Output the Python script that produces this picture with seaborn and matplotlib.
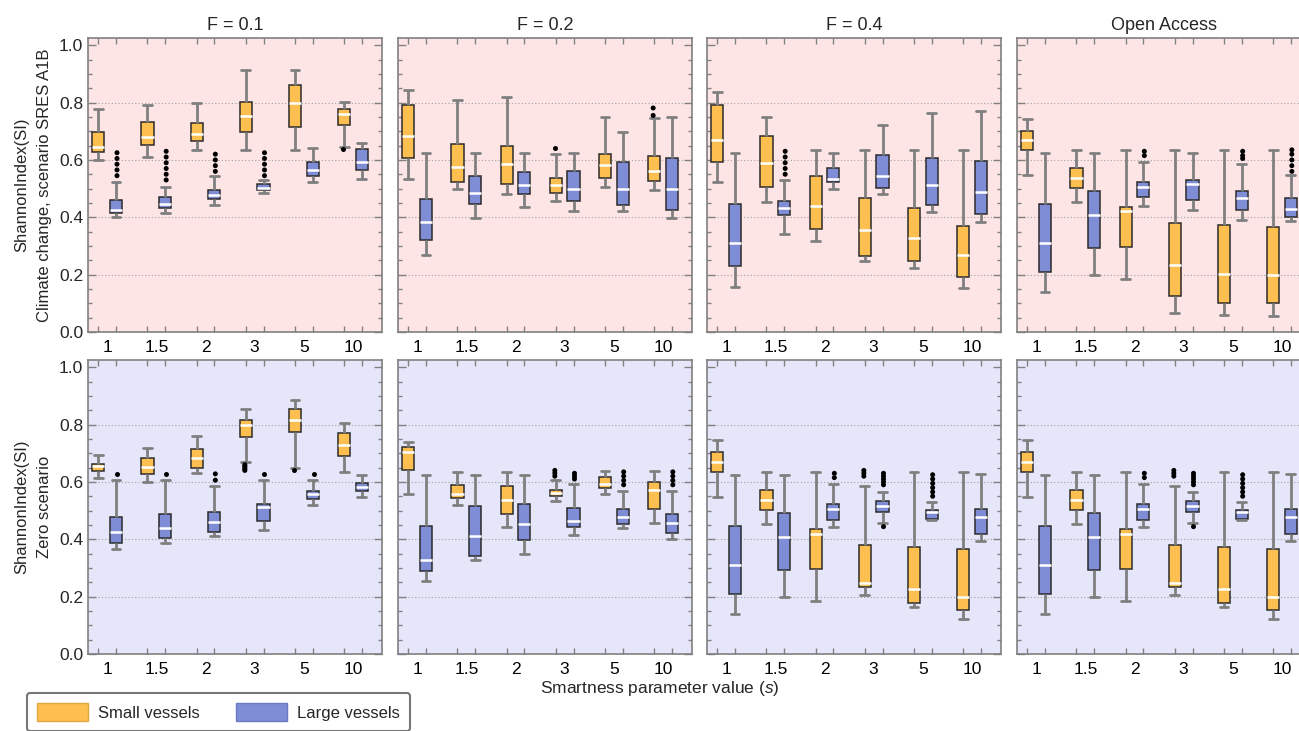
import pandas as pd
import matplotlib
matplotlib.use("Agg")
import matplotlib.pyplot as plt
from matplotlib.patches import Patch
import seaborn as sns

# categories
s_labels = ["1", "1.5", "2", "3", "5", "10"]
vessels = ["Small", "Large"]

# box stats per panel: (lower whisker, q1, median, q3, upper whisker)
f01_cc_small = [(0.600, 0.626, 0.645, 0.698, 0.776), (0.610, 0.653, 0.680, 0.731, 0.793),
                (0.634, 0.665, 0.690, 0.729, 0.797), (0.634, 0.698, 0.752, 0.802, 0.913),
                (0.634, 0.715, 0.797, 0.860, 0.913), (0.645, 0.723, 0.759, 0.779, 0.802)]
f01_cc_large = [(0.400, 0.415, 0.427, 0.459, 0.523), (0.416, 0.433, 0.445, 0.471, 0.506),
                (0.442, 0.463, 0.477, 0.494, 0.543), (0.483, 0.494, 0.503, 0.517, 0.529),
                (0.523, 0.543, 0.564, 0.593, 0.640), (0.535, 0.564, 0.591, 0.637, 0.659)]
f01_cc_out = {("1", "Large"): [0.545, 0.565, 0.585, 0.605, 0.625],
              ("1.5", "Large"): [0.53, 0.55, 0.57, 0.59, 0.61, 0.63],
              ("2", "Large"): [0.56, 0.58, 0.60, 0.62],
              ("3", "Large"): [0.545, 0.565, 0.585, 0.605, 0.625],
              ("10", "Small"): [0.638]}

f02_cc_small = [(0.534, 0.606, 0.685, 0.790, 0.842), (0.500, 0.524, 0.576, 0.655, 0.808),
                (0.481, 0.517, 0.584, 0.648, 0.819), (0.456, 0.484, 0.513, 0.538, 0.621),
                (0.505, 0.536, 0.581, 0.621, 0.751), (0.495, 0.528, 0.562, 0.614, 0.745)]
f02_cc_large = [(0.267, 0.320, 0.383, 0.462, 0.623), (0.399, 0.445, 0.484, 0.543, 0.623),
                (0.437, 0.480, 0.514, 0.558, 0.623), (0.422, 0.457, 0.500, 0.562, 0.623),
                (0.422, 0.442, 0.500, 0.591, 0.699), (0.399, 0.424, 0.500, 0.606, 0.751)]
f02_cc_out = {("3", "Small"): [0.640], ("10", "Small"): [0.755, 0.781]}

f04_cc_small = [(0.523, 0.592, 0.669, 0.790, 0.836), (0.452, 0.505, 0.590, 0.685, 0.751),
                (0.317, 0.359, 0.441, 0.543, 0.635), (0.247, 0.266, 0.356, 0.467, 0.635),
                (0.223, 0.247, 0.326, 0.434, 0.635), (0.152, 0.192, 0.269, 0.370, 0.635)]
f04_cc_large = [(0.157, 0.229, 0.310, 0.445, 0.623), (0.340, 0.408, 0.431, 0.457, 0.530),
                (0.500, 0.523, 0.535, 0.572, 0.623), (0.481, 0.501, 0.545, 0.617, 0.720),
                (0.419, 0.443, 0.514, 0.606, 0.765), (0.384, 0.413, 0.488, 0.595, 0.769)]
f04_cc_out = {("1.5", "Large"): [0.55, 0.57, 0.59, 0.61, 0.63]}

oa_cc_small = [(0.547, 0.634, 0.671, 0.701, 0.742), (0.452, 0.502, 0.537, 0.573, 0.635),
               (0.186, 0.298, 0.421, 0.435, 0.635), (0.066, 0.126, 0.235, 0.379, 0.635),
               (0.059, 0.102, 0.201, 0.373, 0.635), (0.057, 0.102, 0.198, 0.366, 0.635)]
oa_cc_large = [(0.141, 0.210, 0.310, 0.445, 0.623), (0.200, 0.293, 0.407, 0.491, 0.623),
               (0.441, 0.469, 0.505, 0.523, 0.594), (0.426, 0.460, 0.516, 0.531, 0.623),
               (0.392, 0.424, 0.467, 0.491, 0.586), (0.387, 0.401, 0.429, 0.467, 0.549)]
oa_cc_out = {("2", "Large"): [0.615, 0.63], ("5", "Large"): [0.605, 0.615, 0.63],
             ("10", "Large"): [0.56, 0.58, 0.60, 0.62, 0.635]}

f01_zero_small = [(0.613, 0.639, 0.654, 0.661, 0.693), (0.598, 0.628, 0.652, 0.682, 0.719),
                  (0.631, 0.648, 0.683, 0.713, 0.759), (0.668, 0.756, 0.797, 0.817, 0.855),
                  (0.650, 0.773, 0.817, 0.853, 0.886), (0.636, 0.689, 0.730, 0.770, 0.807)]
f01_zero_large = [(0.366, 0.386, 0.424, 0.476, 0.606), (0.388, 0.404, 0.441, 0.487, 0.606),
                  (0.411, 0.427, 0.459, 0.494, 0.584), (0.432, 0.464, 0.512, 0.524, 0.606),
                  (0.520, 0.540, 0.557, 0.570, 0.606), (0.549, 0.569, 0.582, 0.596, 0.625)]
f01_zero_out = {("1", "Large"): [0.628], ("1.5", "Large"): [0.628], ("2", "Large"): [0.606, 0.628],
                ("3", "Small"): [0.64, 0.645, 0.65, 0.655, 0.66], ("3", "Large"): [0.628],
                ("5", "Small"): [0.640], ("5", "Large"): [0.628]}

f02_zero_small = [(0.557, 0.641, 0.703, 0.720, 0.740), (0.520, 0.543, 0.558, 0.589, 0.635),
                  (0.444, 0.488, 0.537, 0.585, 0.635), (0.534, 0.551, 0.563, 0.573, 0.605),
                  (0.557, 0.577, 0.591, 0.617, 0.639), (0.457, 0.505, 0.571, 0.599, 0.639)]
f02_zero_large = [(0.253, 0.290, 0.329, 0.445, 0.624), (0.327, 0.340, 0.410, 0.517, 0.624),
                  (0.350, 0.396, 0.453, 0.523, 0.624), (0.415, 0.443, 0.464, 0.509, 0.594),
                  (0.441, 0.453, 0.477, 0.506, 0.568), (0.400, 0.423, 0.456, 0.487, 0.568)]
f02_zero_out = {("3", "Small"): [0.62, 0.63, 0.64], ("3", "Large"): [0.61, 0.62, 0.63],
                ("5", "Large"): [0.59, 0.605, 0.62, 0.635], ("10", "Large"): [0.59, 0.605, 0.62, 0.635]}

f04_zero_small = [(0.549, 0.636, 0.670, 0.704, 0.745), (0.452, 0.502, 0.537, 0.573, 0.635),
                  (0.185, 0.298, 0.418, 0.435, 0.635), (0.204, 0.232, 0.249, 0.379, 0.586),
                  (0.163, 0.179, 0.225, 0.374, 0.635), (0.121, 0.153, 0.197, 0.366, 0.635)]
f04_zero_large = [(0.141, 0.210, 0.310, 0.445, 0.624), (0.200, 0.293, 0.407, 0.491, 0.624),
                  (0.444, 0.467, 0.507, 0.524, 0.594), (0.458, 0.496, 0.516, 0.533, 0.566),
                  (0.467, 0.471, 0.494, 0.502, 0.530), (0.395, 0.420, 0.477, 0.506, 0.628)]
f04_zero_out = {("2", "Large"): [0.615, 0.63], ("3", "Small"): [0.62, 0.63, 0.64],
                ("3", "Large"): [0.444, 0.59, 0.60, 0.61, 0.62, 0.63],
                ("5", "Large"): [0.55, 0.565, 0.58, 0.595, 0.61, 0.625]}

oa_zero_small = [(0.549, 0.636, 0.670, 0.704, 0.745), (0.452, 0.502, 0.537, 0.573, 0.635),
                 (0.185, 0.298, 0.418, 0.435, 0.635), (0.204, 0.232, 0.249, 0.379, 0.586),
                 (0.163, 0.179, 0.225, 0.374, 0.635), (0.121, 0.153, 0.197, 0.366, 0.635)]
oa_zero_large = [(0.141, 0.210, 0.310, 0.445, 0.624), (0.200, 0.293, 0.407, 0.491, 0.624),
                 (0.444, 0.467, 0.507, 0.524, 0.594), (0.458, 0.496, 0.516, 0.533, 0.566),
                 (0.467, 0.471, 0.494, 0.502, 0.530), (0.395, 0.420, 0.477, 0.506, 0.628)]
oa_zero_out = {("2", "Large"): [0.615, 0.63], ("3", "Small"): [0.62, 0.63, 0.64],
               ("3", "Large"): [0.444, 0.59, 0.60, 0.61, 0.62, 0.63],
               ("5", "Large"): [0.55, 0.565, 0.58, 0.595, 0.61, 0.625]}

col_titles = ["F = 0.1", "F = 0.2", "F = 0.4", "Open Access"]
row_labels = ["ShannonIndex(SI)\nClimate change, scenario SRES A1B",
              "ShannonIndex(SI)\nZero scenario"]
panels = [
    [(f01_cc_small, f01_cc_large, f01_cc_out), (f02_cc_small, f02_cc_large, f02_cc_out),
     (f04_cc_small, f04_cc_large, f04_cc_out), (oa_cc_small, oa_cc_large, oa_cc_out)],
    [(f01_zero_small, f01_zero_large, f01_zero_out), (f02_zero_small, f02_zero_large, f02_zero_out),
     (f04_zero_small, f04_zero_large, f04_zero_out), (oa_zero_small, oa_zero_large, oa_zero_out)],
]

orange = "#FDBF50"
blue = "#7E8DD6"
palette = {"Small": orange, "Large": blue}
row_bg = ["#FDE5E6", "#E6E6FA"]
frame = "#808080"

sns.set_theme(style="white")
plt.rcParams["font.family"] = ["Liberation Sans", "DejaVu Sans"]
plt.rcParams["mathtext.fontset"] = "custom"
plt.rcParams["mathtext.it"] = "Liberation Sans:italic"
plt.rcParams["mathtext.rm"] = "Liberation Sans"

W, H = 1299, 731
fig = plt.figure(figsize=(W / 100, H / 100), dpi=100)
lefts = [88, 398, 707, 1017]
tops = [38, 360]
aw, ah = 294, 294

for r in range(2):
    for c in range(4):
        small, large, outs = panels[r][c]
        ax = fig.add_axes([lefts[c] / W, 1 - (tops[r] + ah) / H, aw / W, ah / H])
        ax.set_facecolor(row_bg[r])

        rows = []
        for s, st in zip(s_labels, small):
            rows += [(s, "Small", v) for v in st]
        for s, st in zip(s_labels, large):
            rows += [(s, "Large", v) for v in st]
        df = pd.DataFrame(rows, columns=["s", "vessel", "value"])
        orows = [(s, v, y) for (s, v), ys in outs.items() for y in ys]
        odf = pd.DataFrame(orows, columns=["s", "vessel", "value"])

        for g in [0.2, 0.4, 0.6, 0.8]:
            ax.axhline(g, color="#a0a0a0", lw=0.8, ls=(0, (1, 2)), zorder=0)

        sns.boxplot(data=df, x="s", y="value", hue="vessel", order=s_labels, hue_order=vessels,
                    palette=palette, saturation=1, width=0.72, gap=0.32, whis=(0, 100),
                    linecolor="#2b2b2b", linewidth=1.1,
                    whiskerprops=dict(color="#7f7f7f", linewidth=2),
                    capprops=dict(color="#7f7f7f", linewidth=2),
                    medianprops=dict(color="white", linewidth=1.8),
                    capwidths=0.18, legend=False, ax=ax)
        sns.stripplot(data=odf, x="s", y="value", hue="vessel", order=s_labels, hue_order=vessels,
                      dodge=True, jitter=False, palette={"Small": "black", "Large": "black"},
                      size=3.6, legend=False, ax=ax, zorder=5)

        ax.set_xlim(-0.39, 5.59)
        ax.set_ylim(0, 1.025)
        ax.set_xticks(range(len(s_labels)))
        ax.set_xticklabels(s_labels)
        box_pos = [i + d for i in range(len(s_labels)) for d in (-0.18, 0.18)]
        ax.set_xticks(box_pos, minor=True)
        ax.set_yticks([0, 0.2, 0.4, 0.6, 0.8, 1.0])
        ax.set_yticks([i * 0.05 for i in range(21)], minor=True)
        ax.tick_params(axis="x", which="major", length=0, pad=6, labelsize=12.5, colors="black")
        ax.tick_params(axis="x", which="minor", direction="in", length=4, top=True, bottom=True,
                       color=frame, width=1)
        ax.tick_params(axis="y", which="major", direction="in", length=6, left=True, right=True,
                       color=frame, width=1, labelsize=12.5)
        ax.tick_params(axis="y", which="minor", direction="in", length=3, left=True, right=True,
                       color=frame, width=1)
        ax.yaxis.set_major_formatter(matplotlib.ticker.FormatStrFormatter("%.1f"))
        if c > 0:
            ax.tick_params(axis="y", labelleft=False)
            ax.set_ylabel("")
        else:
            ax.set_ylabel(row_labels[r], fontsize=12, labelpad=5, linespacing=1.6)
        ax.set_xlabel("")
        for sp in ax.spines.values():
            sp.set_color(frame)
            sp.set_linewidth(1.2)
        if r == 0:
            ax.set_title(col_titles[c], fontsize=13, pad=6)

fig.text(660 / W, 1 - 688 / H, "Smartness parameter value ($s$)", ha="center", va="center", fontsize=12.5)

handles = [Patch(facecolor=orange, edgecolor="#e0a840", label="Small vessels"),
           Patch(facecolor=blue, edgecolor="#6a79c0", label="Large vessels")]
leg = fig.legend(handles=handles, loc="upper left", bbox_to_anchor=(27 / W, 1 - 693 / H), ncol=2,
                 fontsize=12, handlelength=3.05, handleheight=1.3, handletextpad=0.6,
                 columnspacing=2.2, borderpad=0.6, borderaxespad=0, frameon=True, fancybox=True)
leg.get_frame().set_edgecolor("#555555")
leg.get_frame().set_linewidth(1.5)

fig.savefig("out.png", dpi=100)
